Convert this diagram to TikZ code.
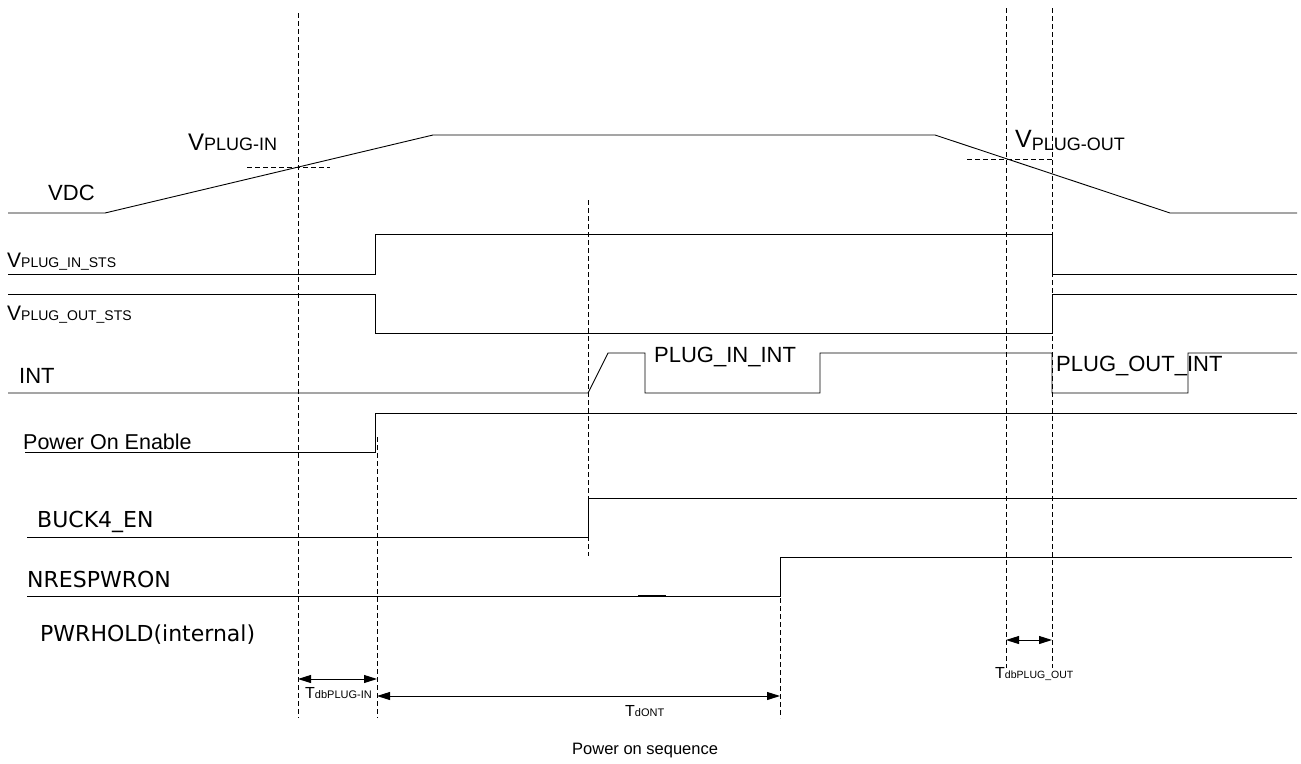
\documentclass[tikz,border=0pt]{standalone}
\usepackage{fontspec}
\setmainfont{Liberation Sans}
\newfontfamily\dvsans{DejaVu Sans}
\usepackage{tikz}
\usetikzlibrary{arrows.meta,positioning,calc}

\newcommand{\fsz}[1]{\fontsize{#1}{#1}\selectfont}

\begin{document}
\begin{tikzpicture}[x=1pt,y=-1pt,
  sig/.style={line width=0.9pt},
  guide/.style={dash pattern=on 5pt off 3pt, line width=0.8pt},
  span/.style={{Triangle[length=13pt,width=8pt]}-{Triangle[length=13pt,width=8pt]}, line width=0.9pt},
  lbl/.style={anchor=base west, inner sep=0pt, font=\fsz{22}},
  dvlbl/.style={anchor=base west, inner sep=0pt, font=\dvsans\fsz{22}}]
  \useasboundingbox (0,0) rectangle (1301,763);

  % guide lines
  \coordinate (g1top) at (298,13);   \coordinate (g1bot) at (298,718);
  \coordinate (g2top) at (377,437);  \coordinate (g2bot) at (377,718);
  \coordinate (g3top) at (588,200);  \coordinate (g3bot) at (588,556);
  \coordinate (g4top) at (780,582);  \coordinate (g4bot) at (780,718);
  \coordinate (g5top) at (1006,8);   \coordinate (g5bot) at (1006,668);
  \coordinate (g6top) at (1052,8);   \coordinate (g6bot) at (1052,668);
  \draw[guide] (g1top) -- (g1bot); % start of debounce (plug-in)
  \draw[guide] (g2top) -- (g2bot); % end of debounce (plug-in)
  \draw[guide] (g3top) -- (g3bot); % interrupt / BUCK4 on
  \draw[guide] (g4top) -- (g4bot); % NRESPWRON release
  \draw[guide] (g5top) -- (g5bot); % start of debounce (plug-out)
  \draw[guide] (g6top) -- (g6bot); % end of debounce (plug-out)
  \draw[guide] (247,167) -- (330,167); % plug-in threshold
  \draw[guide] (967,159) -- (1052,159); % plug-out threshold

  % waveforms
  \draw[sig] (8,213) -- (105,213) -- (433,135) -- (935,135) -- (1170,213) -- (1297,213); % VDC
  \draw[sig] (8,274) -- (375,274) -- (375,234) -- (1052,234) -- (1052,274) -- (1297,274); % plug-in status
  \draw[sig] (8,294) -- (375,294) -- (375,333) -- (1052,333) -- (1052,294) -- (1297,294); % plug-out status
  \draw[sig] (8,393) -- (588,393) -- (608,353) -- (645,353) -- (645,393) -- (820,393) -- (820,353)
    -- (1052,353) -- (1052,393) -- (1188,393) -- (1188,353) -- (1297,353); % INT
  \draw[sig] (25,452) -- (375,452) -- (375,413) -- (1297,413); % power on enable
  \draw[sig] (27,537) -- (588,537) -- (588,498) -- (1297,498); % BUCK4_EN
  \draw[sig] (27,596) -- (780,596) -- (780,557) -- (1292,557); % NRESPWRON
  \draw[line width=1.6pt] (638,596) -- (666,596);

  % labels
  \node[lbl] (vdc) at (48,200) {VDC};
  \node[lbl] (vplugin) at (188,150) {\fsz{24}V\fsz{18}PLUG-IN};
  \node[lbl] (vplugout) at (1015,147) {\fsz{25}V\raisebox{-3pt}{\fsz{18}PLUG-OUT}};
  \node[lbl] (vinsts) at (7,267) {\fsz{21}V\fsz{14}PLUG\_IN\_STS};
  \node[lbl] (voutsts) at (7,320) {\fsz{21}V\fsz{14}PLUG\_OUT\_STS};
  \node[lbl] (int) at (19,383) {INT};
  \node[lbl] (pluginint) at (654,362) {PLUG\_IN\_INT};
  \node[lbl] (plugoutint) at (1056,371) {PLUG\_OUT\_INT};
  \node[lbl, font=\fsz{21.5}] (pwren) at (23,449) {Power On Enable};
  \node[dvlbl] (buck) at (37,527) {BUCK4\_EN};
  \node[dvlbl] (nres) at (27,587) {NRESPWRON};
  \node[dvlbl] (pwrhold) at (40,641) {PWRHOLD(internal)};

  % timing spans
  \coordinate (a1l) at (298,679); \coordinate (a1r) at (377,679);
  \coordinate (a2l) at (377,696); \coordinate (a2r) at (780,696);
  \coordinate (a3l) at (1006,640); \coordinate (a3r) at (1052,640);
  \draw[span] (a1l) -- (a1r);
  \draw[span] (a2l) -- (a2r);
  \draw[span] (a3l) -- (a3r);
  \node[lbl] (tdbin) at (305,698) {\fsz{16}T\fsz{11}dbPLUG-IN};
  \node[lbl] (tdont) at (625,716) {\fsz{16}T\fsz{11}dONT};
  \node[lbl] (tdbout) at (995,678) {\fsz{16}T\fsz{10.5}dbPLUG\_OUT};
  \node[lbl, font=\fsz{16.5}] (title) at (572,754) {Power on sequence};
\end{tikzpicture}
\end{document}
